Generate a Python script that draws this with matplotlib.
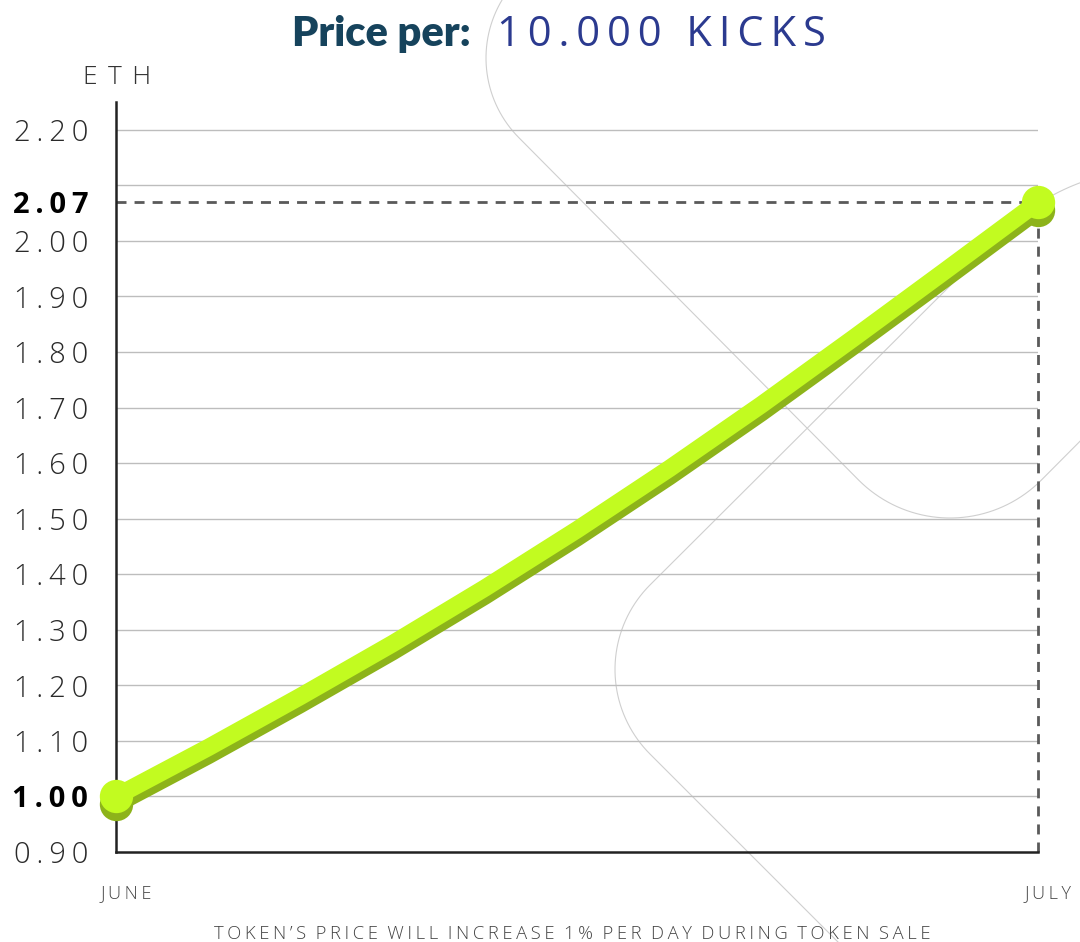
import matplotlib
matplotlib.use("Agg")
import numpy as np
import matplotlib.pyplot as plt
import matplotlib.transforms as mtransforms
from matplotlib.path import Path
from matplotlib.patches import PathPatch

# ---------------- data ----------------
days = [0, 3, 6, 9, 12, 15, 18, 21, 24, 27, 30]
price = [1.00, 1.088, 1.18, 1.275, 1.375, 1.48, 1.59, 1.705, 1.825, 1.947, 2.07]
x_tick_pos = [0, 30]
x_tick_labels = ["JUNE", "JULY"]
y_ticks = [0.90, 1.00, 1.10, 1.20, 1.30, 1.40, 1.50, 1.60, 1.70, 1.80, 1.90, 2.00, 2.07, 2.20]
y_tick_labels = ["0.90", "1.00", "1.10", "1.20", "1.30", "1.40", "1.50", "1.60",
                 "1.70", "1.80", "1.90", "2.00", "2.07", "2.20"]
bold_labels = ["1.00", "2.07"]
grid_values = [1.00, 1.10, 1.20, 1.30, 1.40, 1.50, 1.60, 1.70, 1.80, 1.90, 2.00, 2.10, 2.20]
final_price = 2.07
title_bold = "Price per:"
title_light = "10.000 KICKS"
unit_label = "ETH"
caption = "TOKEN’S PRICE WILL INCREASE 1% PER DAY DURING TOKEN SALE"

# ---------------- style ----------------
W, H = 1080, 942
LIME = "#c2fb20"
OLIVE = "#8db31a"
FONT = ["Open Sans", "DejaVu Sans"]
TS = "\u2009"


def spaced(s, sep=TS):
    return sep.join(s)


fig = plt.figure(figsize=(W / 100, H / 100), dpi=100)
fig.patch.set_facecolor("white")

# decorative background strokes (pixel coords, y down)
pix = mtransforms.Affine2D().scale(1 / W, -1 / H).translate(0, 1) + fig.transFigure


def arc(cx, cy, r, a0, a1, n=40):
    t = np.radians(np.linspace(a0, a1, n))
    return list(zip(cx + r * np.cos(t), cy + r * np.sin(t)))


p1 = [(570, -73), (519, -22)] + arc(599, 58, 113, 225, 135) + arc(950, 389, 129, 135, 45) + [(1130, 391)]
p2 = [(1130, 168)]
for si in np.linspace(1, 0, 30):
    bx = (1 - si) ** 2 * 1005 + 2 * (1 - si) * si * 1039 + si ** 2 * 1085
    by = (1 - si) ** 2 * 231 + 2 * (1 - si) * si * 197 + si ** 2 * 181
    p2.append((bx, by))
p2 += arc(734.6, 669.5, 119.6, 225, 135) + [(870, 974)]
for pts in (p1, p2):
    fig.add_artist(PathPatch(Path(pts), fill=False, edgecolor="#cfcfcf", lw=0.8,
                             transform=pix, zorder=0))

ax = fig.add_axes([116 / W, 1 - 852 / H, (1038 - 116) / W, (852 - 102) / H])
ax.set_zorder(2)
ax.patch.set_alpha(0)
ax.set_xlim(0, 30)
ax.set_ylim(0.9, 2.25)

for v in grid_values:
    ax.axhline(v, color="#bdbdbd", lw=1.0, zorder=1)

# dashed reference lines
ax.plot([0, days[-1]], [final_price, final_price], color="#5a5a5a", lw=2.0,
        ls=(0, (3.6, 2.9)), zorder=2, clip_on=False)
ax.plot([days[-1], days[-1]], [0.9, final_price], color="#5a5a5a", lw=2.0,
        ls=(0, (3.6, 2.9)), zorder=2, clip_on=False)

shadow = ax.transData + mtransforms.ScaledTranslation(0, -8 / 100, fig.dpi_scale_trans)
ax.plot(days, price, color=OLIVE, lw=12.5, solid_capstyle="round",
        solid_joinstyle="round", transform=shadow, zorder=3, clip_on=False)
ax.plot([days[0], days[-1]], [price[0], price[-1]], "o", ms=24, color=OLIVE,
        mec="none", transform=shadow, zorder=3, clip_on=False)
ax.plot(days, price, color=LIME, lw=12.5, solid_capstyle="round",
        solid_joinstyle="round", zorder=4, clip_on=False)
ax.plot([days[0], days[-1]], [price[0], price[-1]], "o", ms=24, color=LIME,
        mec="none", zorder=5, clip_on=False)

for side in ("top", "right"):
    ax.spines[side].set_visible(False)
for side in ("left", "bottom"):
    ax.spines[side].set_color("#222222")
    ax.spines[side].set_linewidth(1.8)

ax.set_yticks(y_ticks)
ax.set_yticklabels([spaced(t) for t in y_tick_labels])
ax.tick_params(axis="y", length=0, pad=20)
for lab, raw in zip(ax.get_yticklabels(), y_tick_labels):
    lab.set_fontfamily(FONT)
    lab.set_fontsize(21)
    if raw in bold_labels:
        lab.set_fontweight("bold")
        lab.set_color("black")
    else:
        lab.set_fontweight("light")
        lab.set_color("#2a2a2a")

ax.set_xticks(x_tick_pos)
ax.set_xticklabels([spaced(t) for t in x_tick_labels])
ax.tick_params(axis="x", length=0, pad=23)
shift = mtransforms.ScaledTranslation(10 / 100, 0, fig.dpi_scale_trans)
for lab in ax.get_xticklabels():
    lab.set_fontfamily(FONT)
    lab.set_fontsize(13)
    lab.set_fontweight("light")
    lab.set_color("#444444")
    lab.set_transform(lab.get_transform() + shift)

fig.text(83 / W, 1 - 84 / H, spaced(unit_label, TS + TS), family=FONT, fontsize=19,
         fontweight="light", color="#333333", va="baseline", ha="left")
fig.text(292 / W, 1 - 46 / H, title_bold, family=["Lato", "DejaVu Sans"], fontsize=30,
         fontweight="heavy", color="#16435c", va="baseline", ha="left")
fig.text(497 / W, 1 - 46 / H, spaced(title_light), family=FONT, fontsize=30,
         fontweight="normal", color="#2b3a8f", va="baseline", ha="left")
fig.text(572 / W, 1 - 939 / H, spaced(caption).replace(TS + " " + TS, "  "), family=FONT,
         fontsize=13.2, fontweight="light", color="#444444", va="baseline", ha="center")

fig.savefig("out.png", dpi=100, facecolor="white")
